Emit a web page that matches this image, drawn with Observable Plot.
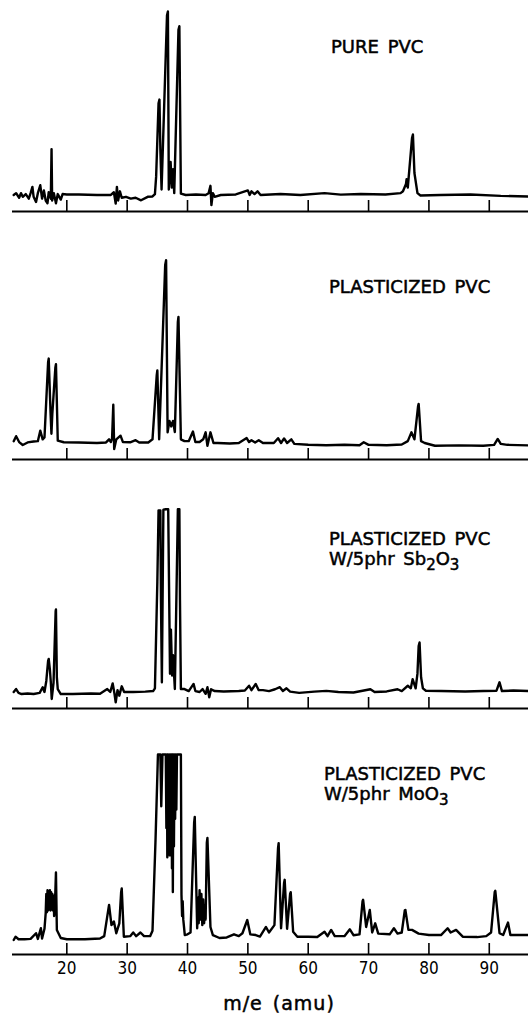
<!DOCTYPE html>
<html><head><meta charset="utf-8">
<script src="https://cdn.jsdelivr.net/npm/d3@7"></script>
<script src="https://cdn.jsdelivr.net/npm/@observablehq/plot@0.6"></script>
<style>
body{margin:0;background:#fff;}
#chart{position:relative;width:528px;height:1015px;font-family:"DejaVu Sans",sans-serif;color:#000;overflow:hidden;}
.panel{position:absolute;left:0;}
.lab{position:absolute;font-size:18px;line-height:20px;white-space:nowrap;word-spacing:3px;-webkit-text-stroke:0.5px #000;}
.lab sub{font-size:15px;vertical-align:-5px;line-height:0;}
.xlab{position:absolute;font-size:19px;line-height:20px;white-space:nowrap;letter-spacing:1px;word-spacing:3px;transform:translateX(-50%);-webkit-text-stroke:0.5px #000;}
</style></head><body><div id="chart"></div>
<script>
// ---- data (m/e in amu, relative intensity: 0 = baseline, 100 = full scale) ----
const tickValues = [20, 30, 40, 50, 60, 70, 80, 90];
const massRange = [11, 96.5];
const xLabel = "m/e (amu)";
const titles = [
  ["PURE PVC"],
  ["PLASTICIZED PVC"],
  ["PLASTICIZED PVC", "W/5phr Sb<sub>2</sub>O<sub>3</sub>"],
  ["PLASTICIZED PVC", "W/5phr MoO<sub>3</sub>"]
];

const purePVC = [
  [11.2,0],[11.6,1],[12.1,-1.5],[12.4,1],[12.7,-1],[13.2,0.5],[13.7,-2],[14.0,1],[14.3,4.4],[14.5,-1],
  [14.9,-3.8],[15.2,1],[15.6,5.3],[15.9,-2],[16.2,2.5],[16.5,-3],[16.8,-4.5],[17.0,1.5],[17.35,-2],
  [17.47,25],[17.57,-3],[17.85,1],[18.2,-4.5],[18.5,0.5],[19.0,-2.5],[19.3,0.5],[20.0,0.3],
  [22,0.3],[25,0],[27.3,0],[27.8,1.5],[28.1,-4.7],[28.3,4.4],[28.5,-3],[28.8,2],[29.1,-1.5],
  [29.8,-1],[30.6,-2],[31.4,-1.5],[32.3,-2.9],[33.4,-1],[34.2,-0.8],[34.6,0.5],[34.8,10],
  [35.2,50],[35.35,52],[35.5,25],[35.7,3],[36.6,98],[36.75,100],[36.9,3],[37.2,18],[37.4,4],[37.6,14],[37.8,1],
  [38.5,90],[38.65,92],[38.9,0.7],[39.7,0],[41.4,0.3],[43.0,0],[43.5,1],[43.8,5],[43.96,-5.5],[44.2,1],
  [44.5,-1],[45.5,0],[48.0,0.3],[50.0,2.5],[50.3,0],[50.6,2],[51.1,0.5],[51.6,2],[52.1,0],
  [55.4,0.5],[58.7,0],[62.7,1],[65.4,0.2],[68.7,0.5],[72.8,0.3],[75.3,1],[75.7,2],[76.2,6],
  [76.3,8.6],[76.5,4],[77.2,31],[77.35,33],[77.6,12],[78.1,1],[78.6,-0.3],[81.9,0],[86.9,0.3],[91.9,-0.5],[96.5,-0.8]
];

const plasticizedPVC = [
  [11.2,1],[11.6,3.7],[12.1,0.5],[12.7,-1.1],[13.5,0.3],[14.5,0.8],[15.2,1],[15.6,6.7],[16.0,2],
  [16.3,3],[16.9,44],[17.0,46],[17.3,17],[17.45,5],[17.6,16],[18.1,41],[18.2,43],[18.5,1.3],[19.5,0.4],[22,0.3],[25,0],
  [26.5,0.3],[27.0,2],[27.3,0.5],[27.5,2.5],[27.7,20.8],[27.85,-3.3],[28.2,2],[28.9,4],[29.3,0.5],
  [30.5,0.4],[31.4,1.5],[32,0.3],[33.5,0.3],[34.2,2],[34.9,37],[35.0,39.5],[35.3,2],[36.3,97],[36.45,99.6],[36.7,5.8],
  [37.0,12],[37.3,9],[37.6,12],[37.9,6],[38.4,66],[38.5,68.7],[38.9,2],[39.5,1],[40.2,1],[40.9,6.2],[41.3,0.5],
  [42.0,0.5],[42.6,2],[43.0,5.8],[43.3,-1.5],[43.8,5.8],[44.3,0],[45,0],[47,-0.3],[48.5,0],[49.8,2.7],
  [50.2,0.5],[50.6,1.5],[51.2,0.3],[51.8,1.5],[52.5,0],[54.3,0],[55.0,2.6],[55.5,0],[56.0,2.5],
  [56.5,0],[57.2,2],[57.7,-0.5],[60,-1],[63,-1.2],[66,-1],[68.5,-1.2],[69.2,0.4],[70,-1],[73,-1.2],
  [75.5,-0.8],[76.5,1],[77.1,5.8],[77.6,2],[78.2,20],[78.3,21.3],[78.7,1],[79.3,0],[81,-1.5],[85,-1.3],
  [89,-1.5],[90.8,-1],[91.4,2.2],[91.9,-0.5],[93,-1],[96.5,-1.3]
];

const sb2o3PVC = [
  [11.2,0],[11.6,1.6],[12.0,-0.5],[12.5,-1.1],[13.5,-0.8],[14.5,-1.1],[15.5,-0.5],[16.0,2.6],[16.3,0],
  [16.6,6],[16.9,17],[17.0,18],[17.2,12],[17.35,5.3],[17.5,-3.8],[17.8,5],[18.15,44],[18.2,45],[18.35,8],[18.5,1.6],
  [19.0,-1.1],[21,-1.1],[24,-0.8],[25.5,-1],[26.7,1.6],[27.2,0],[27.6,4.7],[27.9,-1],[28.1,-5.6],
  [28.4,1],[28.7,-2],[29.1,3.1],[29.5,0],[31,0],[33,0.2],[34.3,0.5],[34.6,2],[35.0,60],[35.2,99],
  [35.5,99],[35.6,50],[35.75,5.3],[36.0,99.3],[36.4,99.6],[36.8,99.6],[37.0,40],[37.1,10],[37.25,34],
  [37.45,9],[37.6,20],[37.9,1.6],[38.1,40],[38.4,99.6],[38.65,99.6],[38.75,50],[38.9,1.6],[39.5,1.6],
  [40.2,0.5],[41.0,4.4],[41.3,0.5],[42.0,0],[42.5,1.6],[43.0,-1],[43.3,2.6],[43.6,-2.9],[43.9,1.5],
  [44.5,0.5],[46,0.3],[48.5,0.5],[49.5,0.8],[50.2,3.4],[50.6,1],[51.3,4.4],[51.8,1],[52.5,1],
  [53.5,0.5],[54.5,1.5],[55.3,2.6],[55.8,0.5],[56.4,2],[57.0,0.2],[58.5,-0.5],[61,0.2],[63,0.6],
  [65,0],[67.5,-0.3],[70.3,1.5],[71,0],[73,0.3],[74.8,1.5],[75.5,0.5],[76.5,3.4],[77.0,2],[77.3,7],
  [77.8,2],[78.1,10],[78.3,25],[78.45,27],[78.7,8],[79.0,2],[79.5,0.7],[82,0.5],[86,0.3],[89,0.5],[91.2,0.7],
  [91.7,5.3],[92.1,0.5],[94,0.8],[96.5,0.5]
];

const moo3PVC = [
  [11.2,-1.1],[11.5,0.7],[12.0,-0.7],[13.0,-0.7],[14.0,-0.5],[14.9,2.6],[15.2,-0.5],[15.7,5.3],
  [15.9,-0.3],[16.3,5],[16.5,13.5],[16.6,24],[16.7,14],[16.8,26],[16.9,15],[17.0,25],[17.1,16],
  [17.2,26],[17.3,15],[17.4,25],[17.5,16],[17.6,24],[17.7,15],[17.8,23],[17.9,12],[18.05,20],
  [18.2,35.7],[18.35,4.4],[19.0,0],[20,-0.7],[23,-0.7],[25.5,-0.3],[26.2,1],
  [26.9,16],[27.0,18],[27.4,7],[27.8,9],[28.2,2.6],[28.7,8],[29.0,25],[29.1,27],[29.45,0.7],[30.5,1],[31.0,3],[31.5,1],
  [32.2,3],[32.8,1],[33.8,1],[34.2,4],[34.7,53.6],[35.1,100],[35.5,100],[35.65,71.8],[35.85,100],
  [36.4,100],[36.5,60],[36.6,100],[36.65,44],[36.75,100],[36.85,60],[36.95,100],[37.05,45],[37.15,100],
  [37.25,55],[37.35,100],[37.42,38],[37.5,100],[37.57,25],[37.65,100],[37.75,50],[37.85,100],[37.95,65],
  [38.05,100],[38.15,70],[38.25,100],
  [38.9,100],[39.0,23.5],[39.1,12],[39.2,20],[39.3,10],[39.55,1.6],[40.0,2],[40.5,3],[41.1,63],[41.2,66],[41.6,5.3],
  [41.75,22],[41.85,8],[42.0,26],[42.15,10],[42.3,24],[42.45,7],[42.6,21],[42.75,8],[42.9,18],[43.0,10],
  [43.2,52],[43.3,54.5],[43.8,6],[44.2,1.6],[45.3,0],[46.5,0.3],
  [47.7,2],[48.5,1],[49.1,2.6],[49.9,9.8],[50.4,2],[51.3,1.6],[52.0,0.8],[53.0,6],[53.5,3],[54.4,7],
  [55.0,49],[55.1,51.7],[55.5,5.3],[56.0,30],[56.1,31.7],[56.5,5],[57.0,24],[57.1,25],[57.5,3.4],[58.2,0.7],[60,0.7],[61.5,0.5],
  [62.7,3.4],[63.2,1],[63.8,4.4],[64.4,1],[66.0,1],[66.9,4.7],[67.5,1.5],[68.5,2],[69.0,20],[69.1,20.8],
  [69.6,6],[70.2,15.3],[70.6,3],[71.1,8],[71.6,2.4],[73.5,2],[74.2,5.3],[74.8,2.4],[75.5,3],
  [76.0,15],[76.1,15.3],[76.6,4.4],[77.2,4.4],[78.3,2.4],[80,1.6],[82,1.6],[83.1,5.3],[83.6,3],[84.5,4.4],
  [85.6,0.7],[88,0.5],[89.5,1],[90.3,3],[90.9,25],[91.0,25.7],[91.7,2.6],[92.3,1.6],[93.1,8.4],[93.5,1.6],
  [94.5,1.6],[96.5,1.6]
];

const spectra = [purePVC, plasticizedPVC, sb2o3PVC, moo3PVC];

// ---- layout ----
const W = 528;
const axisLevel = -9;
const tickLen = 6;
const panelTops = [5, 253, 502, 748];
const titleLeft = [331, 329, 329, 324];
const titleTop = [36.5, 276.5, 528.8, 763.8];

const chart = document.getElementById("chart");

spectra.forEach((data, i) => {
  const last = i === spectra.length - 1;
  const marks = [
    Plot.ruleY([axisLevel], {stroke: "#000", strokeWidth: 2}),
    Plot.ruleX(tickValues, {y1: axisLevel, y2: axisLevel + tickLen, stroke: "#000", strokeWidth: 1.6}),
    Plot.line(data, {x: d => d[0], y: d => d[1], stroke: "#000", strokeWidth: 2.4})
  ];
  if (last) {
    marks.push(Plot.axisX(tickValues, {
      tickSize: 0, tickPadding: 7, fontSize: 17,
      fontFamily: "DejaVu Sans Condensed", label: null, fill: "#000",
      stroke: "#000", strokeWidth: 0.5
    }));
  }
  const svg = Plot.plot({
    width: W,
    height: last ? 267 : 210,
    marginLeft: 12, marginRight: 0, marginTop: 6, marginBottom: last ? 61 : 4,
    x: {domain: massRange, axis: last ? undefined : null},
    y: {domain: [axisLevel, 100], axis: null},
    style: {background: "transparent", overflow: "visible"},
    marks
  });
  svg.classList.add("panel");
  svg.style.top = panelTops[i] + "px";
  chart.appendChild(svg);

  const lab = document.createElement("div");
  lab.className = "lab";
  lab.style.left = titleLeft[i] + "px";
  lab.style.top = titleTop[i] + "px";
  lab.innerHTML = titles[i].join("<br>");
  chart.appendChild(lab);
});

const xl = document.createElement("div");
xl.className = "xlab";
xl.style.left = "279px";
xl.style.top = "993px";
xl.textContent = xLabel;
chart.appendChild(xl);
</script>
</body></html>
